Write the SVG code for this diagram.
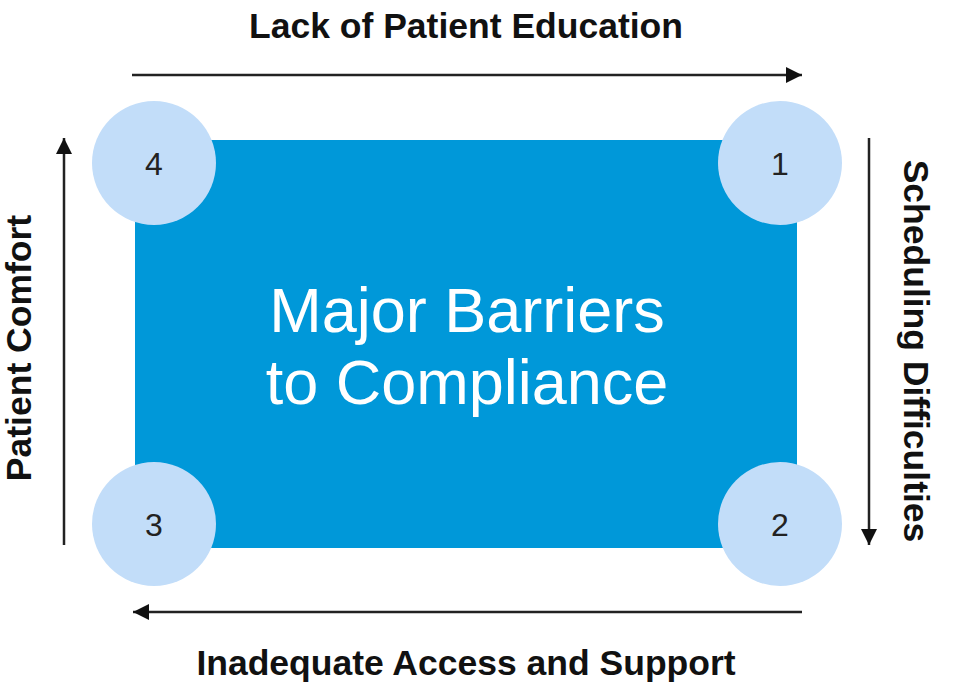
<svg xmlns="http://www.w3.org/2000/svg" width="954" height="698" viewBox="0 0 954 698">
<style>
.lbl{font-family:"Liberation Sans",Arial,sans-serif;font-weight:bold;font-size:35.5px;fill:#111}
.num{font-family:"Liberation Sans",Arial,sans-serif;font-size:32px;fill:#222;text-anchor:middle}
.c{fill:#c2ddf9}
.ln{stroke:#222;stroke-width:2.5;fill:none;marker-end:url(#ah)}
</style>
<defs>
<marker id="ah" viewBox="0 0 10 10" refX="10" refY="5" markerWidth="20" markerHeight="16" markerUnits="userSpaceOnUse" orient="auto">
<path d="M0,0 L10,5 L0,10 Z" fill="#111"/>
</marker>
</defs>
<rect width="954" height="698" fill="#fff"/>
<g id="center">
<rect x="135" y="140" width="662" height="408" fill="#0098d9"/>
<text x="467" y="332" font-family="Liberation Sans,Arial,sans-serif" font-size="63" fill="#fff" text-anchor="middle">Major Barriers</text>
<text x="467" y="404" font-family="Liberation Sans,Arial,sans-serif" font-size="63" fill="#fff" text-anchor="middle">to Compliance</text>
</g>
<g id="n4"><circle class="c" cx="154" cy="163" r="62"/><text class="num" x="154" y="175">4</text></g>
<g id="n1"><circle class="c" cx="780" cy="163" r="62"/><text class="num" x="780" y="175">1</text></g>
<g id="n3"><circle class="c" cx="154" cy="524" r="62"/><text class="num" x="154" y="536">3</text></g>
<g id="n2"><circle class="c" cx="780" cy="524" r="62"/><text class="num" x="780" y="536">2</text></g>
<g id="connectors">
<line class="ln" x1="132" y1="75" x2="802" y2="75"/>
<line class="ln" x1="869" y1="138" x2="869" y2="545"/>
<line class="ln" x1="802" y1="612" x2="133" y2="612"/>
<line class="ln" x1="64" y1="545" x2="64" y2="138"/>
</g>
<g id="labels">
<text class="lbl" x="466" y="38" text-anchor="middle">Lack of Patient Education</text>
<text class="lbl" x="466" y="675" text-anchor="middle">Inadequate Access and Support</text>
<text class="lbl" transform="translate(904,351) rotate(90)" text-anchor="middle">Scheduling Difficulties</text>
<text class="lbl" transform="translate(31,348) rotate(-90)" text-anchor="middle">Patient Comfort</text>
</g>
</svg>
